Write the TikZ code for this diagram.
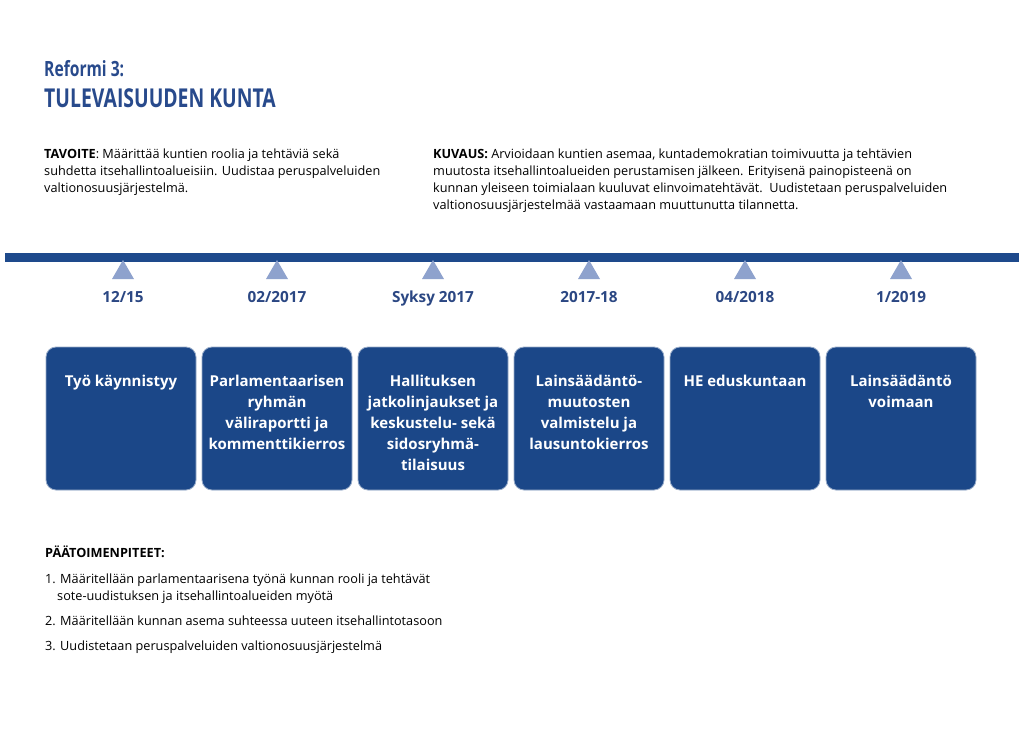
\documentclass[tikz,border=0pt]{standalone}
\usepackage{fontspec}
\setmainfont{Open Sans}
\newfontfamily\condfont[FakeStretch=0.745]{Open Sans}
\usetikzlibrary{positioning,shapes.geometric}
\definecolor{boxblue}{RGB}{27,71,136}
\definecolor{barblue}{RGB}{30,74,140}
\definecolor{triblue}{RGB}{142,162,205}
\definecolor{dateblue}{RGB}{43,71,131}
\definecolor{titleblue}{RGB}{40,74,140}
\tikzset{
  stepbox/.style={fill=boxblue, draw=boxblue!45, line width=0.8pt, rounded corners=10pt,
    minimum width=150pt, minimum height=143pt, inner sep=0pt, outer sep=0pt},
  steptext/.style={text=white, align=center, inner sep=0pt,
    font=\fontsize{15}{21}\selectfont\bfseries},
  marker/.style={regular polygon, regular polygon sides=3, fill=triblue,
    minimum size=25.4pt, inner sep=0pt},
  datelabel/.style={text=dateblue, inner sep=0pt, font=\fontsize{15.3}{18}\selectfont\bfseries},
  bodytext/.style={align=left, anchor=north west, inner sep=0pt,
    font=\fontsize{12.7}{16.8}\selectfont}
}
\begin{document}
\begin{tikzpicture}[x=1pt,y=-1pt]
		\useasboundingbox [fill=white] (0,0) rectangle (1024,743);
		\node [anchor=west, inner sep=0pt, text=titleblue, font=\fontsize{21}{22}\condfont\bfseries] (reform) at (44,69) {Reformi 3:};
		\node [anchor=west, inner sep=0pt, text=titleblue, font=\fontsize{26}{28}\condfont\bfseries] (title) at (44,98) {TULEVAISUUDEN KUNTA};
		
		\node [bodytext] (goal) at (44,149) {\textbf{TAVOITE}: Määrittää kuntien roolia ja tehtäviä sekä\\suhdetta itsehallintoalueisiin. Uudistaa peruspalveluiden\\valtionosuusjärjestelmä.};
		\node [bodytext] (desc) at (433,149) {\textbf{KUVAUS:} Arvioidaan kuntien asemaa, kuntademokratian toimivuutta ja tehtävien\\muutosta itsehallintoalueiden perustamisen jälkeen. Erityisenä painopisteenä on\\kunnan yleiseen toimialaan kuuluvat elinvoimatehtävät.\ \ Uudistetaan peruspalveluiden\\valtionosuusjärjestelmää vastaamaan muuttunutta tilannetta.};
		
		\fill [barblue] (5,253) rectangle (1019,262);
		
		\node [marker] (m1) at (123,272.7) {};
		\node [marker] (m2) at (277,272.7) {};
		\node [marker] (m3) at (433,272.7) {};
		\node [marker] (m4) at (589,272.7) {};
		\node [marker] (m5) at (745,272.7) {};
		\node [marker] (m6) at (901,272.7) {};
		
		\node [datelabel, below=23pt of m1, anchor=base] (d1) {12/15};
		\node [datelabel, below=23pt of m2, anchor=base] (d2) {02/2017};
		\node [datelabel, below=23pt of m3, anchor=base] (d3) {Syksy 2017};
		\node [datelabel, below=23pt of m4, anchor=base] (d4) {2017-18};
		\node [datelabel, below=23pt of m5, anchor=base] (d5) {04/2018};
		\node [datelabel, below=23pt of m6, anchor=base] (d6) {1/2019};
		
		\node [stepbox] (b1) at (121,418.5) {};
		\node [stepbox, right=6pt of b1] (b2) {};
		\node [stepbox, right=6pt of b2] (b3) {};
		\node [stepbox, right=6pt of b3] (b4) {};
		\node [stepbox, right=6pt of b4] (b5) {};
		\node [stepbox, right=6pt of b5] (b6) {};
		
		\node [steptext, anchor=north] (t1) at ([yshift=-28pt]b1.north) {Työ käynnistyy};
		\node [steptext, anchor=north] (t2) at ([yshift=-28pt]b2.north) {Parlamentaarisen\\ryhmän\\väliraportti ja\\kommenttikierros};
		\node [steptext, anchor=north] (t3) at ([yshift=-28pt]b3.north) {Hallituksen\\jatkolinjaukset ja\\keskustelu- sekä\\sidosryhmä-\\tilaisuus};
		\node [steptext, anchor=north] (t4) at ([yshift=-28pt]b4.north) {Lainsäädäntö-\\muutosten\\valmistelu ja\\lausuntokierros};
		\node [steptext, anchor=north] (t5) at ([yshift=-28pt]b5.north) {HE eduskuntaan};
		\node [steptext, anchor=north] (t6) at ([yshift=-28pt]b6.north) {Lainsäädäntö\\voimaan};
		
		\node [bodytext] (actions) at (45,546) {\textbf{PÄÄTOIMENPITEET:}\\[9pt]1. Määritellään parlamentaarisena työnä kunnan rooli ja tehtävät\\\hspace*{12pt}sote-uudistuksen ja itsehallintoalueiden myötä\\[8.5pt]2. Määritellään kunnan asema suhteessa uuteen itsehallintotasoon\\[8pt]3. Uudistetaan peruspalveluiden valtionosuusjärjestelmä};
\end{tikzpicture}
\end{document}
